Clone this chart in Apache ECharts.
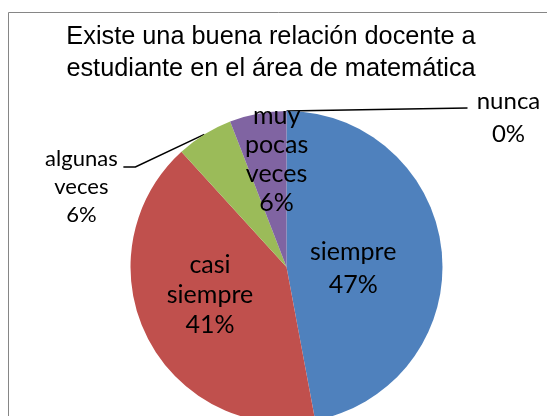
<!DOCTYPE html>
<html><head><meta charset="utf-8">
<script src="https://cdn.jsdelivr.net/npm/echarts@6/dist/echarts.min.js"></script>
<style>html,body{margin:0;padding:0;background:#fff}#c{width:547px;height:416px}</style>
</head><body><div id="c"></div>
<script>
const titleLines = ['Existe una buena relación docente a', 'estudiante en el área de matemática'];
const categories = ['siempre', 'casi siempre', 'algunas veces', 'muy pocas veces', 'nunca'];
const values = [8, 7, 1, 1, 0];
const colors = ['#4F81BD', '#C0504D', '#9BBB59', '#8064A2', '#4BACC6'];

// label styling / nudges (not data)
const labelFont = 'Lato';
const itemLabel = {
  'siempre':         {fontSize: 25, lineHeight: 33, dx: -14, dy: 9},
  'casi siempre':    {fontSize: 25, lineHeight: 30, dx: -4,  dy: -8},
  'algunas veces':   {fontSize: 22, lineHeight: 28},
  'muy pocas veces': {fontSize: 25, lineHeight: 29, dx: 5,   dy: -28},
  'nunca':           {fontSize: 24, lineHeight: 33}
};
const outsideNames = ['algunas veces', 'nunca'];

const chart = echarts.init(document.getElementById('c'), null, {renderer: 'canvas'});
const data = categories.map((name, i) => {
  const st = itemLabel[name];
  const out = outsideNames.indexOf(name) >= 0;
  return {
    name: name,
    value: values[i],
    itemStyle: {color: colors[i]},
    label: {
      position: out ? 'outside' : 'inside',
      fontSize: st.fontSize,
      lineHeight: st.lineHeight
    },
    labelLine: {show: out}
  };
});

chart.setOption({
  animation: false,
  title: {
    text: titleLines.join('\n'),
    left: 271, top: 21, textAlign: 'center', padding: 0,
    textStyle: {fontFamily: 'Liberation Sans', fontSize: 25.3, fontWeight: 'normal', color: '#000', lineHeight: 32}
  },
  graphic: [{
    type: 'rect', silent: true,
    shape: {x: 8.5, y: 12.5, width: 600, height: 500},
    style: {fill: 'none', stroke: '#868686', lineWidth: 1}
  }],
  series: [{
    type: 'pie',
    center: [286.5, 267],
    radius: 156,
    startAngle: 90,
    clockwise: true,
    avoidLabelOverlap: false,
    data: data,
    label: {
      show: true,
      color: '#000',
      fontFamily: labelFont,
      formatter: p => p.name.replace(/ /g, '\n') + '\n' + Math.round(p.percent) + '%'
    },
    labelLine: {lineStyle: {color: '#000', width: 1.5}, length: 10, length2: 10},
    labelLayout: function (p) {
      const name = categories[p.dataIndex];
      const st = itemLabel[name];
      const pts = p.labelLinePoints;
      if (name === 'algunas veces' && pts) {
        const a = pts[0];
        return {
          x: a[0] - 123, y: a[1] + 11, align: 'center', verticalAlign: 'top',
          labelLinePoints: [a, [a[0] - 69, a[1] + 32.6], [a[0] - 81, a[1] + 32.6]]
        };
      }
      if (name === 'nunca' && pts) {
        const a = pts[0];
        return {
          x: a[0] + 222, y: a[1] - 26, align: 'center', verticalAlign: 'top',
          labelLinePoints: [a, [a[0] + 90, a[1] - 1.5], [a[0] + 181, a[1] - 3]]
        };
      }
      if (st.dx != null) {
        const r = p.labelRect;
        return {
          x: r.x + r.width / 2 + st.dx, y: r.y + r.height / 2 + st.dy,
          align: 'center', verticalAlign: 'middle'
        };
      }
      return {};
    }
  }]
});
</script></body></html>
